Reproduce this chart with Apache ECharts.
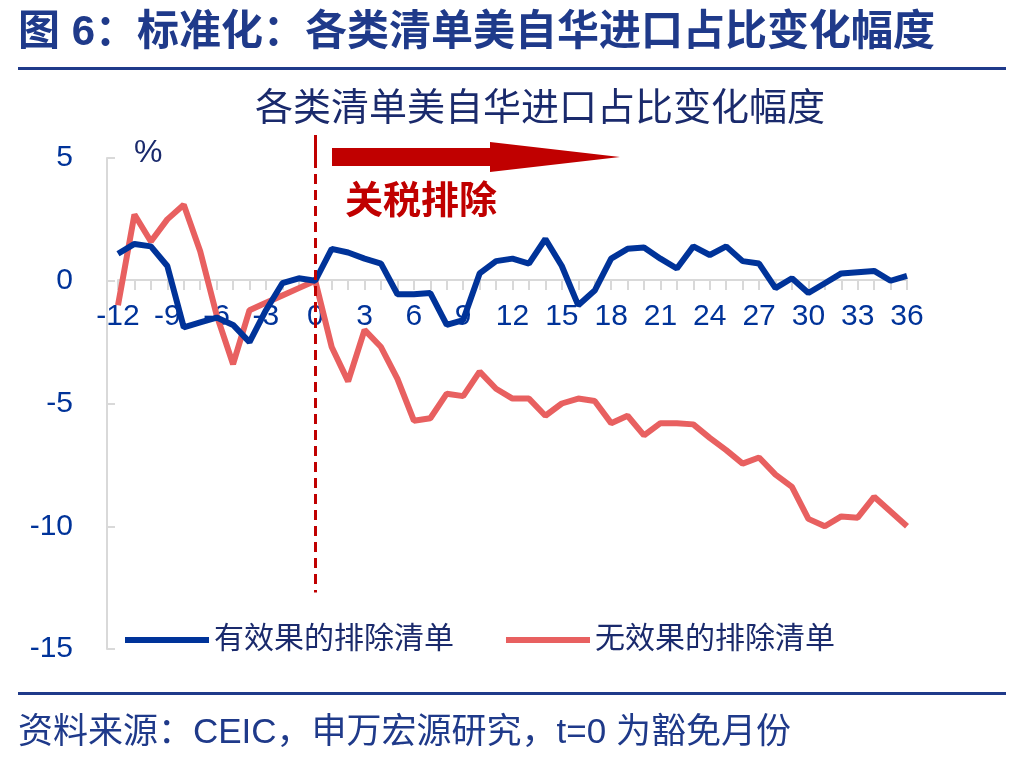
<!DOCTYPE html>
<html lang="zh">
<head>
<meta charset="UTF-8">
<title>各类清单美自华进口占比变化幅度</title>
<script src="https://cdn.jsdelivr.net/npm/echarts@6/dist/echarts.min.js"></script>
<style>
  body { margin: 0; background: #fff; }
  #chart { width: 1022px; height: 768px; }
</style>
</head>
<body>
<div id="chart"></div>
<script>
// months relative to exclusion (t=0)
const months = [];
for (let t = -12; t <= 36; t++) months.push(t);

const effective = [1.1, 1.5, 1.4, 0.6, -1.9, -1.7, -1.5, -1.8, -2.5, -1.2, -0.1, 0.1, 0.0,
  1.3, 1.15, 0.9, 0.7, -0.55, -0.55, -0.5, -1.8, -1.6, 0.3, 0.8, 0.9,
  0.7, 1.7, 0.6, -1.0, -0.4, 0.9, 1.3, 1.35, 0.9, 0.5, 1.4, 1.05,
  1.4, 0.8, 0.7, -0.3, 0.1, -0.5, -0.1, 0.3, 0.35, 0.4, 0.0, 0.2];

const ineffective = [-1.0, 2.7, 1.6, 2.5, 3.1, 1.2, -1.4, -3.4, -1.2, -0.9, -0.6, -0.3, 0.0,
  -2.7, -4.1, -2.0, -2.7, -4.0, -5.7, -5.6, -4.6, -4.7, -3.7, -4.4, -4.8,
  -4.8, -5.5, -5.0, -4.8, -4.9, -5.8, -5.5, -6.3, -5.8, -5.8, -5.85, -6.4,
  -6.9, -7.45, -7.2, -7.9, -8.4, -9.7, -10.0, -9.6, -9.65, -8.8, -9.4, -10.0];

const blue = '#003399';
const red = '#e86060';
const font = 'Liberation Sans, Noto Sans CJK SC, sans-serif';

const pair = arr => months.map((t, i) => [t, arr[i]]);

const chart = echarts.init(document.getElementById('chart'));
chart.setOption({
  animation: false,
  textStyle: { fontFamily: font },
  grid: { left: 118, right: 115, top: 158, bottom: 119 },
  legend: {
    left: 120, top: 620, itemGap: 52, itemWidth: 84, itemHeight: 6,
    icon: 'rect',
    textStyle: { fontSize: 30, color: '#1a2a6c', fontFamily: font },
    data: ['有效果的排除清单', '无效果的排除清单']
  },
  xAxis: {
    type: 'value', min: -12, max: 36, interval: 3, offset: -369,
    axisLine: { onZero: false, lineStyle: { color: '#d9d9d9', width: 2 } },
    axisTick: { show: true, length: 10, lineStyle: { color: '#d9d9d9', width: 2 } },
    minorTick: { show: true, splitNumber: 3, length: 10, lineStyle: { color: '#d9d9d9', width: 2 } },
    axisLabel: { fontSize: 30, color: blue, margin: 22, fontFamily: font },
    splitLine: { show: false }
  },
  yAxis: {
    type: 'value', min: -15, max: 5, interval: 5, offset: 11,
    axisLine: { show: true, onZero: false, lineStyle: { color: '#d9d9d9', width: 2 } },
    axisTick: { show: true, length: 8, inside: true, lineStyle: { color: '#d9d9d9', width: 2 } },
    axisLabel: { fontSize: 30, color: blue, margin: 34, fontFamily: font },
    splitLine: { show: false }
  },
  series: [
    {
      name: '有效果的排除清单', type: 'line', data: pair(effective),
      symbol: 'none', lineStyle: { color: blue, width: 6 }, itemStyle: { color: blue }, z: 3,
      markLine: {
        silent: true, symbol: 'none', label: { show: false },
        lineStyle: { color: '#c00000', type: [10, 6], width: 3 },
        data: [[{ coord: [0, 5] }, { coord: [0, -12.7] }]]
      }
    },
    {
      name: '无效果的排除清单', type: 'line', data: pair(ineffective),
      symbol: 'none', lineStyle: { color: red, width: 6 }, itemStyle: { color: red }, z: 2
    }
  ],
  graphic: [
    { type: 'text', left: 18, top: 12, style: { text: '图 6：标准化：各类清单美自华进口占比变化幅度', fontSize: 42, fontWeight: 'bold', fill: '#1f3a8a', fontFamily: font } },
    { type: 'rect', shape: { x: 18, y: 67, width: 988, height: 3 }, style: { fill: '#1f3a8a' } },
    { type: 'text', left: 255, top: 91, style: { text: '各类清单美自华进口占比变化幅度', fontSize: 38, fill: '#1a2a6c', fontFamily: font } },
    { type: 'text', left: 134, top: 137, style: { text: '%', fontSize: 32, fill: '#1a2a6c', fontFamily: font } },
    { type: 'rect', shape: { x: 314, y: 135, width: 3, height: 23 }, style: { fill: '#c00000' } },
    { type: 'polygon', shape: { points: [[332, 148], [490, 148], [490, 142], [620, 157], [490, 172], [490, 166], [332, 166]] }, style: { fill: '#c00000' } },
    { type: 'text', left: 345, top: 184, style: { text: '关税排除', fontSize: 38, fontWeight: 'bold', fill: '#c00000', fontFamily: font } },
    { type: 'rect', shape: { x: 18, y: 692, width: 988, height: 3 }, style: { fill: '#1f3a8a' } },
    { type: 'text', left: 18, top: 716, style: { text: '资料来源：CEIC，申万宏源研究，t=0 为豁免月份', fontSize: 35, fill: '#1f3a8a', fontFamily: font } }
  ]
});
</script>
</body>
</html>
